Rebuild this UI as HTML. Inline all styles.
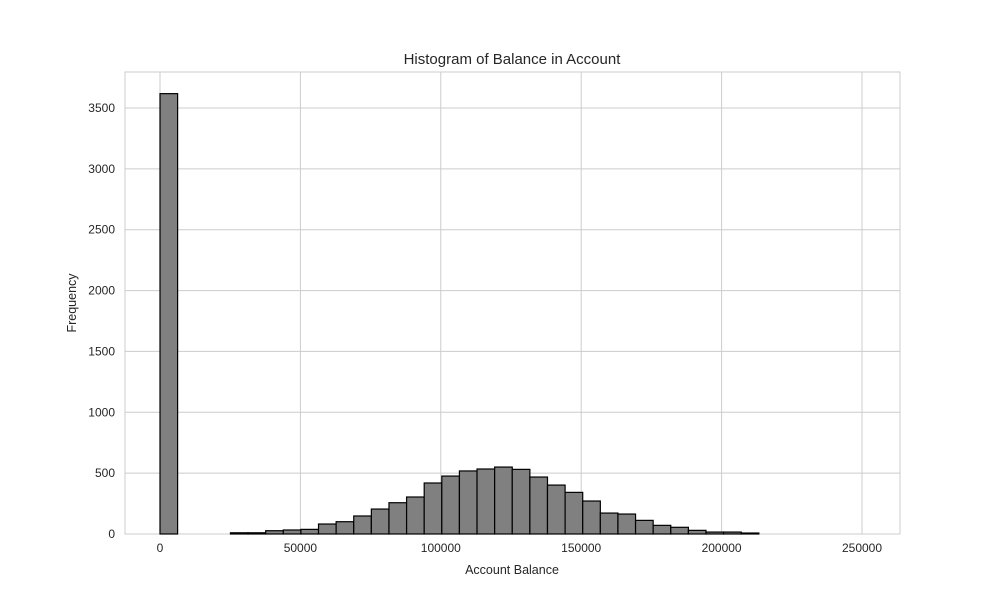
<!DOCTYPE html>
<html><head><meta charset="utf-8"><style>
body{margin:0;background:#fff;font-family:"Liberation Sans",sans-serif;}
svg text{font-family:"Liberation Sans",sans-serif;fill:#262626;}
</style></head><body>
<svg id="chart" width="1000" height="600">
<rect x="125" y="72" width="775" height="462" fill="#fff" stroke="#cccccc"/>
<g id="grid"></g><g id="bars"></g><g id="ticks"></g>
<text x="512" y="64" text-anchor="middle" font-size="15">Histogram of Balance in Account</text>
<text x="512" y="574" text-anchor="middle" font-size="12.5">Account Balance</text>
<text transform="translate(76,303) rotate(-90)" text-anchor="middle" font-size="12.5">Frequency</text>
</svg>
<script>
const counts=[3618,0,0,0,10,10,27,33,38,82,101,148,205,257,304,419,476,518,534,550,531,468,402,342,271,172,164,112,71,55,30,16,16,8,0,0,0,0,0,0];
const binMin=0, binMax=250898;
const xTicks=[0,50000,100000,150000,200000,250000];
const yTicks=[0,500,1000,1500,2000,2500,3000,3500];
const NS="http://www.w3.org/2000/svg";
const x=v=>160+v*(702/250000);
const y=v=>534-v*(426/3500);
const grid=document.getElementById('grid'),bars=document.getElementById('bars'),ticks=document.getElementById('ticks');
function mk(tag,attrs,parent){const e=document.createElementNS(NS,tag);for(const k in attrs)e.setAttribute(k,attrs[k]);parent.appendChild(e);return e;}
xTicks.forEach(t=>{
 const l=mk('line',{x1:x(t),x2:x(t),y1:72,y2:534,stroke:'#cccccc'},grid);
 
 
 const tx=mk('text',{x:x(t),y:552,'text-anchor':'middle','font-size':'12'},ticks);
 tx.textContent=t;
 
 
});
yTicks.forEach(t=>{
 const l=mk('line',{x1:125,x2:900,y1:y(t),y2:y(t),stroke:'#cccccc'},grid);
 
 
 const tx=mk('text',{x:115,y:y(t)+4,'text-anchor':'end','font-size':'12'},ticks);
 tx.textContent=t;
 
 
});
const w=(binMax-binMin)/counts.length;
counts.forEach((c,i)=>{
 if(c<=0)return;
 const x0=x(binMin+i*w),x1=x(binMin+(i+1)*w);
 const r=mk('rect',{x:x0,y:y(c),width:x1-x0,height:y(0)-y(c),fill:'#808080',stroke:'#000','stroke-width':1.2},bars);
 
 
});
</script>
</body></html>
